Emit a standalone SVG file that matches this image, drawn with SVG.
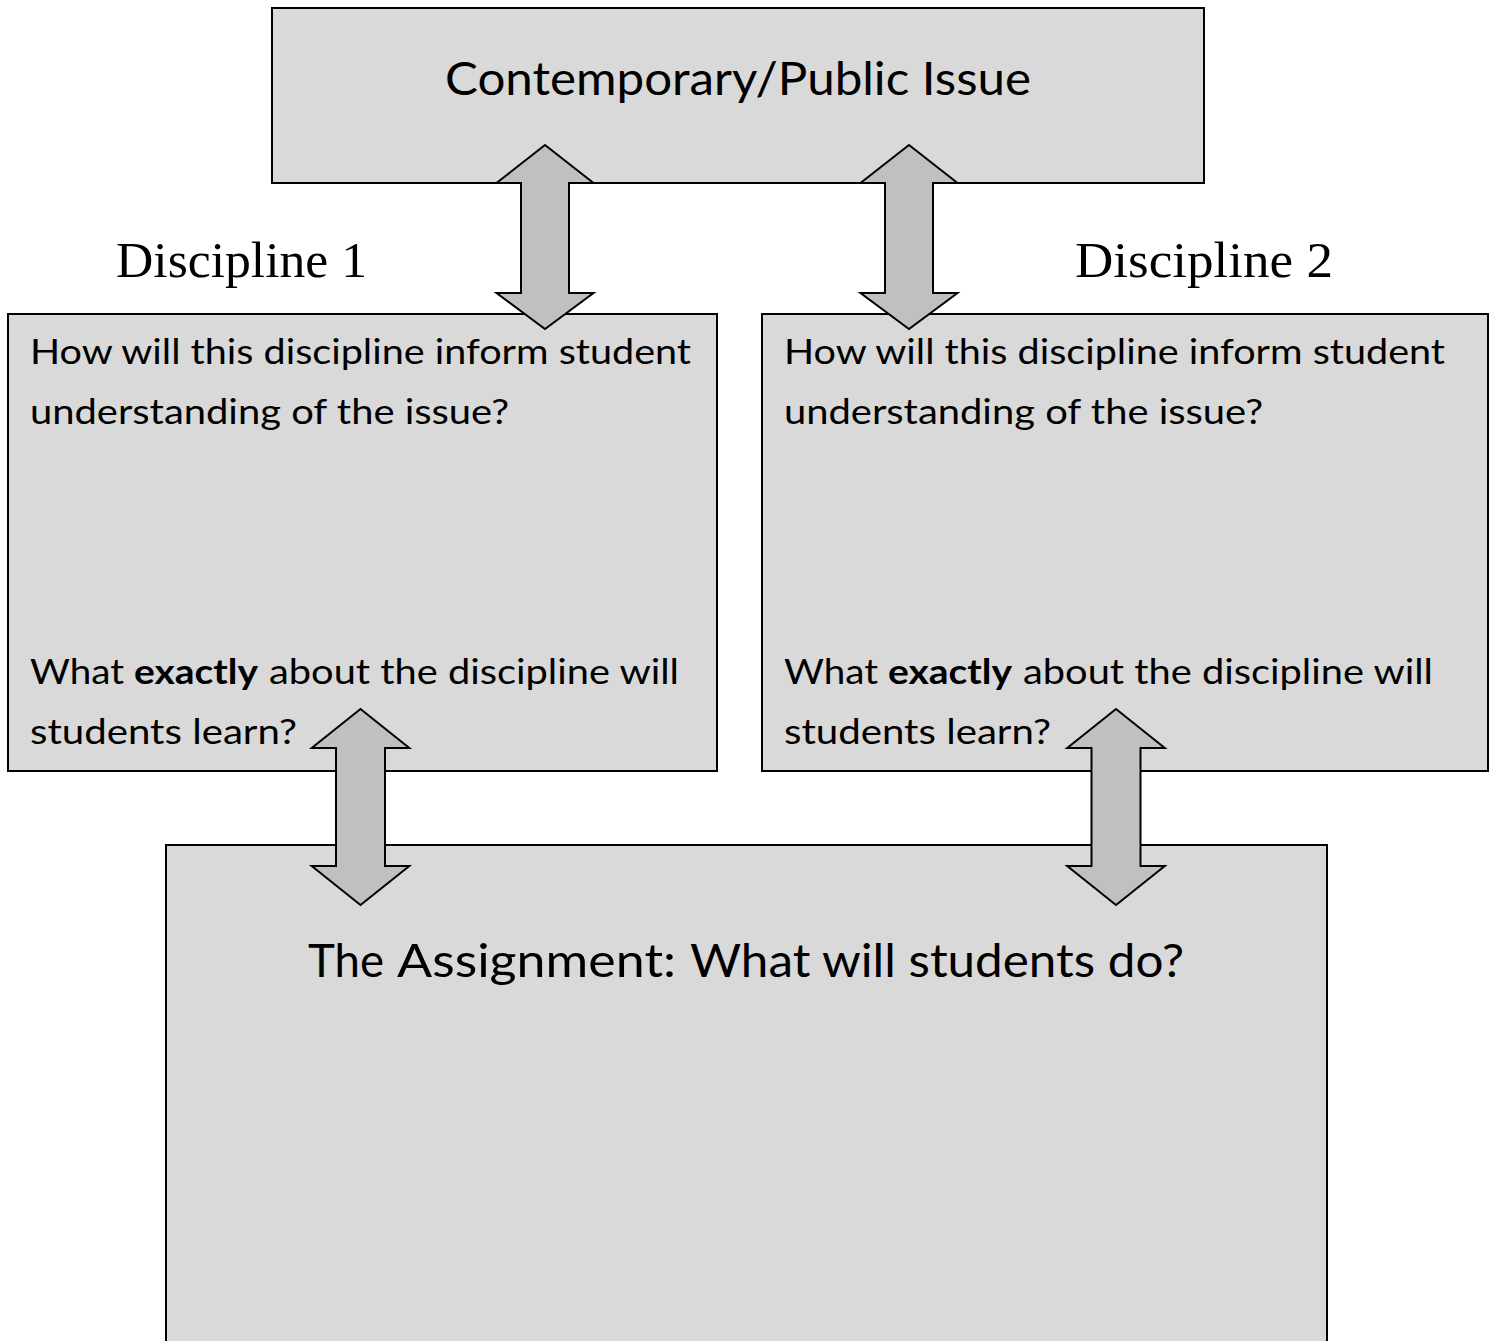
<svg xmlns="http://www.w3.org/2000/svg" width="1493" height="1341" viewBox="0 0 1493 1341">
<style>
.box{fill:#d9d9d9;stroke:#000;stroke-width:2}
.arr{fill:#c0c0c0;stroke:#000;stroke-width:2;stroke-linejoin:miter}
.sans{font-family:Lato,"Open Sans","Liberation Sans",sans-serif;fill:#000}
.serif{font-family:"Liberation Serif","DejaVu Serif",serif;fill:#000;font-size:51px}
.body{font-size:35px}
.b{font-weight:bold}
</style>
<rect width="1493" height="1341" fill="#fff"/>
<g id="issue">
<rect class="box" x="272" y="8" width="932" height="175"/>
<text class="sans" x="445" y="95" font-size="46" textLength="586" lengthAdjust="spacingAndGlyphs">Contemporary/Public Issue</text>
</g>
<g id="label-d1"><text class="serif" x="116" y="277" textLength="251" lengthAdjust="spacingAndGlyphs">Discipline 1</text></g>
<g id="label-d2"><text class="serif" x="1075" y="277" textLength="258" lengthAdjust="spacingAndGlyphs">Discipline 2</text></g>
<g id="discipline1">
<rect class="box" x="8" y="314" width="709" height="457"/>
<text class="sans body" x="30" y="364" textLength="661" lengthAdjust="spacingAndGlyphs">How will this discipline inform student</text>
<text class="sans body" x="30" y="424" textLength="479" lengthAdjust="spacingAndGlyphs">understanding of the issue?</text>
<text class="sans body" x="30" y="684" textLength="94" lengthAdjust="spacingAndGlyphs">What</text>
<text class="sans body b" x="134" y="684" textLength="124" lengthAdjust="spacingAndGlyphs">exactly</text>
<text class="sans body" x="269" y="684" textLength="410" lengthAdjust="spacingAndGlyphs">about the discipline will</text>
<text class="sans body" x="30" y="744" textLength="267" lengthAdjust="spacingAndGlyphs">students learn?</text>
</g>
<g id="discipline2">
<rect class="box" x="762" y="314" width="726" height="457"/>
<text class="sans body" x="784" y="364" textLength="661" lengthAdjust="spacingAndGlyphs">How will this discipline inform student</text>
<text class="sans body" x="784" y="424" textLength="479" lengthAdjust="spacingAndGlyphs">understanding of the issue?</text>
<text class="sans body" x="784" y="684" textLength="94" lengthAdjust="spacingAndGlyphs">What</text>
<text class="sans body b" x="888" y="684" textLength="124" lengthAdjust="spacingAndGlyphs">exactly</text>
<text class="sans body" x="1023" y="684" textLength="410" lengthAdjust="spacingAndGlyphs">about the discipline will</text>
<text class="sans body" x="784" y="744" textLength="267" lengthAdjust="spacingAndGlyphs">students learn?</text>
</g>
<g id="assignment">
<rect class="box" x="166" y="845" width="1161" height="520"/>
<text class="sans" x="308" y="977" font-size="46" textLength="76" lengthAdjust="spacingAndGlyphs">The</text>
<text class="sans" x="397" y="977" font-size="46" textLength="279" lengthAdjust="spacingAndGlyphs">Assignment:</text>
<text class="sans" x="690" y="977" font-size="46" textLength="494" lengthAdjust="spacingAndGlyphs">What will students do?</text>
</g>
<g id="connectors">
<path class="arr" d="M545,145 L593.5,183 L569,183 L569,293 L593.5,293 L545,329 L496.5,293 L521,293 L521,183 L496.5,183 Z"/>
<path class="arr" d="M909,145 L957.5,183 L933,183 L933,293 L957.5,293 L909,329 L860.5,293 L885,293 L885,183 L860.5,183 Z"/>
<path class="arr" d="M360.5,709 L409.3,748 L385,748 L385,866 L409.3,866 L360.5,905 L311.7,866 L336,866 L336,748 L311.7,748 Z"/>
<path class="arr" d="M1116,709 L1164.8,748 L1140.5,748 L1140.5,866 L1164.8,866 L1116,905 L1067.2,866 L1091.5,866 L1091.5,748 L1067.2,748 Z"/>
</g>
</svg>
